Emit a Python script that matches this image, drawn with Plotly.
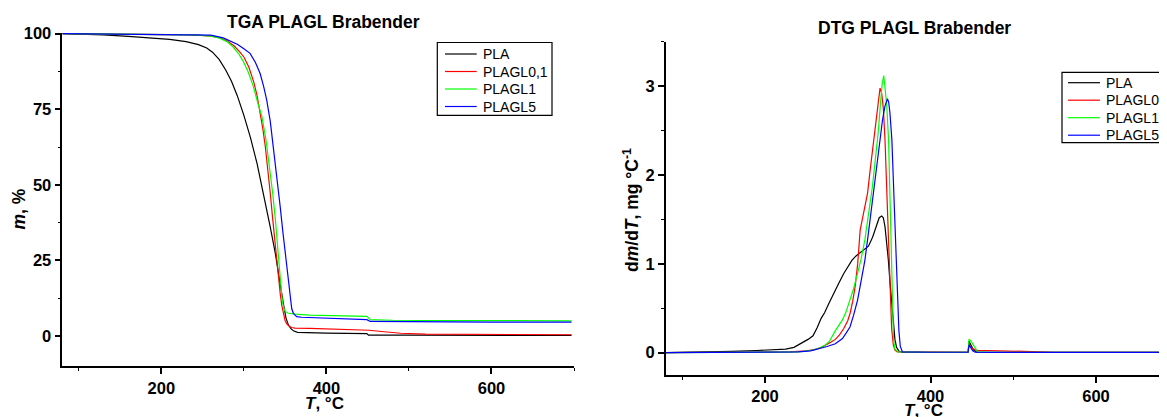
import plotly.graph_objects as go

# The page body has an 8 px default margin; the figure is sized to fill the
# remaining window, and all layout positions below are given in window pixels.
OFF = 8
W, H = 1167 - OFF, 417 - OFF

series_names = ["PLA", "PLAGL0,1", "PLAGL1", "PLAGL5"]
series_colors = ["#000000", "#ff0000", "#00ff00", "#0000ff"]

# ---------------- TGA data (T in °C, m in %) ----------------
tga_T_pla = [80, 100, 130, 160, 190, 210, 230, 245, 255, 262, 270, 278, 285, 292, 300, 308, 316, 324, 332, 338, 344,
             348, 351, 354, 357, 360, 365, 380, 400, 449, 451, 500, 600, 697]
tga_m_pla = [100, 99.9, 99.6, 99.1, 98.6, 98.1, 97.4, 96.4, 95.3, 93.9, 91.5, 88.0, 84.3, 79.5, 73.0, 65.6, 57.0, 47.0,
             36.0, 27.5, 16.5, 10.5, 6.0, 3.6, 2.4, 1.7, 1.2, 1.0, 0.95, 0.8, 0.3, 0.25, 0.2, 0.2]

tga_T_gl01 = [80, 150, 200, 240, 260, 270, 280, 288, 295, 300, 306, 312, 316, 320, 323, 326, 329, 332, 335, 338, 341,
              344, 346, 348, 350, 352, 355, 358, 362, 380, 420, 449, 452, 470, 490, 520, 600, 697]
tga_m_gl01 = [100, 99.9, 99.8, 99.6, 99.2, 98.7, 97.6, 96.0, 94.0, 92.3, 89.0, 84.0, 79.5, 73.6, 68.5, 62.6, 55.5,
              47.2, 38.5, 29.5, 21.0, 14.1, 10.0, 6.8, 5.0, 4.0, 3.2, 2.8, 2.6, 2.5, 2.3, 2.1, 1.9, 1.4, 0.9, 0.6,
              0.45, 0.4]

tga_T_gl1 = [80, 150, 200, 240, 260, 270, 280, 287, 293, 299, 305, 311, 317, 322, 327, 331, 335, 338, 341, 344, 346,
             348, 350, 353, 357, 362, 380, 420, 449, 453, 480, 550, 697]
tga_m_gl1 = [100, 99.9, 99.8, 99.6, 99.2, 98.6, 97.3, 95.6, 93.6, 91.0, 87.5, 83.0, 77.0, 72.5, 64.5, 56.5, 47.0,
             39.0, 29.5, 19.0, 13.0, 9.5, 8.2, 7.6, 7.4, 7.2, 6.9, 6.7, 6.5, 5.4, 5.2, 5.1, 5.0]

tga_T_gl5 = [80, 150, 200, 240, 260, 275, 283, 292, 300, 307.5, 314, 319.6, 324, 327.7, 332, 335.8, 340, 344, 347,
             350, 353, 356, 358, 360, 362, 364, 370, 400, 449, 453, 500, 600, 697]
tga_m_gl5 = [100, 99.9, 99.8, 99.7, 99.5, 98.6, 97.6, 96.5, 95.0, 93.5, 90.5, 86.9, 82.5, 78.0, 71.0, 62.6, 52.5,
             42.8, 35.0, 27.3, 19.5, 11.9, 9.0, 7.5, 6.9, 6.4, 6.2, 5.9, 5.4, 4.8, 4.7, 4.6, 4.6]

# ---------------- DTG data (T in °C, dm/dT in mg/°C) ----------------
dtg_T_pla = [80, 120, 160, 190, 210, 225, 235, 245, 252, 258, 263, 268, 272, 277, 283, 289, 295, 300, 305, 310, 315,
             320, 325, 330, 335, 338, 341, 343, 345, 347, 349, 351, 353, 355, 357, 359, 362, 365, 400, 445.5, 446.5,
             448, 452, 456, 470, 600, 700]
dtg_v_pla = [0, 0.005, 0.015, 0.025, 0.03, 0.04, 0.06, 0.11, 0.15, 0.19, 0.28, 0.39, 0.45, 0.55, 0.67, 0.78, 0.89,
             0.97, 1.04, 1.09, 1.13, 1.16, 1.20, 1.30, 1.44, 1.52, 1.54, 1.52, 1.42, 1.25, 1.05, 0.8, 0.55, 0.32, 0.15,
             0.06, 0.015, 0.005, 0.005, 0.005, 0.13, 0.10, 0.03, 0.005, 0.003, 0.003, 0.003]

dtg_T_gl01 = [80, 150, 200, 230, 250, 260, 268, 275, 280, 285, 290, 295, 300, 303, 306, 309, 312, 315, 318, 321, 324,
              327, 330, 333, 336, 339, 341, 343, 345, 347, 349, 351, 353, 355, 357, 360, 400, 445.5, 446.5, 448, 452,
              456, 470, 490, 500, 550, 700]
dtg_v_gl01 = [0, 0.002, 0.005, 0.01, 0.02, 0.035, 0.06, 0.09, 0.12, 0.15, 0.2, 0.27, 0.36, 0.45, 0.58, 0.75, 1.0,
              1.38, 1.52, 1.63, 1.8, 2.05, 2.3, 2.55, 2.8, 2.98, 2.92, 2.75, 2.4, 1.85, 1.2, 0.65, 0.28, 0.09, 0.03,
              0.01, 0.005, 0.005, 0.1, 0.07, 0.04, 0.025, 0.025, 0.02, 0.01, 0.005, 0.003]

dtg_T_gl1 = [80, 200, 240, 255, 265, 272, 278, 284.5, 289, 293.6, 298, 302.7, 307, 311.8, 316, 320.7, 325, 329.8,
             333, 336.7, 339.5, 341.5, 343.5, 345, 347, 349.3, 351, 353.3, 354.3, 355.3, 357, 361, 400, 445.5, 446.5,
             448, 451, 454, 457, 470, 700]
dtg_v_gl1 = [0, 0.003, 0.01, 0.025, 0.05, 0.08, 0.13, 0.24, 0.3, 0.37, 0.46, 0.59, 0.72, 0.89, 1.05, 1.27, 1.55,
             1.87, 2.15, 2.47, 2.8, 3.02, 3.12, 3.0, 2.8, 2.4, 1.7, 0.89, 0.4, 0.15, 0.04, 0.01, 0.005, 0.005, 0.15,
             0.14, 0.1, 0.05, 0.01, 0.003, 0.003]

dtg_T_gl5 = [80, 200, 240, 255, 264, 275, 285, 293.6, 298, 302.7, 307, 311.8, 316, 320.7, 325, 329.8, 334, 338.9,
             342, 345, 347, 348, 349.5, 351, 353.3, 355.5, 357.3, 358.7, 360.1, 361.8, 363.5, 366, 400, 445.5, 446.5,
             448, 451, 454, 470, 700]
dtg_v_gl5 = [0, 0.003, 0.01, 0.02, 0.04, 0.07, 0.1, 0.16, 0.22, 0.29, 0.42, 0.59, 0.8, 1.04, 1.35, 1.72, 2.05, 2.40,
             2.62, 2.78, 2.85, 2.86, 2.82, 2.7, 2.4, 1.85, 1.27, 0.85, 0.52, 0.25, 0.07, 0.01, 0.005, 0.005, 0.09,
             0.06, 0.02, 0.005, 0.003, 0.003]

tga_T = [tga_T_pla, tga_T_gl01, tga_T_gl1, tga_T_gl5]
tga_m = [tga_m_pla, tga_m_gl01, tga_m_gl1, tga_m_gl5]
dtg_T = [dtg_T_pla, dtg_T_gl01, dtg_T_gl1, dtg_T_gl5]
dtg_v = [dtg_v_pla, dtg_v_gl01, dtg_v_gl1, dtg_v_gl5]

FONT = "Arial, 'Liberation Sans', sans-serif"


def px_x(p):
    return (p - OFF) / W


def px_y(p):
    return 1 - (p - OFF) / H


fig = go.Figure()
for i, name in enumerate(series_names):
    fig.add_trace(go.Scatter(x=tga_T[i], y=tga_m[i], mode="lines", name=name,
                             line=dict(color=series_colors[i], width=1.2),
                             xaxis="x", yaxis="y", showlegend=False))
for i, name in enumerate(series_names):
    fig.add_trace(go.Scatter(x=dtg_T[i], y=dtg_v[i], mode="lines", name=name,
                             line=dict(color=series_colors[i], width=1.2),
                             xaxis="x2", yaxis="y2", showlegend=False))

axis_common = dict(showline=True, linecolor="black", linewidth=1.5, mirror=False,
                   ticks="outside", ticklen=6, tickwidth=1.5, tickcolor="black",
                   showgrid=False, zeroline=False,
                   tickfont=dict(family=FONT, size=16.5, color="black", weight="bold"))
minor_common = dict(ticks="outside", ticklen=3, tickwidth=1.2, tickcolor="black", tick0=0)

fig.update_layout(
    width=W, height=H,
    margin=dict(l=0, r=0, t=0, b=0, autoexpand=False),
    paper_bgcolor="white", plot_bgcolor="white",
    showlegend=False,
    xaxis=dict(domain=[px_x(62.3), px_x(574)], range=[80, 700], anchor="y",
               tickmode="linear", tick0=0, dtick=200,
               minor=dict(dtick=100, **minor_common), **axis_common),
    yaxis=dict(domain=[px_y(366.2), px_y(32.5)], range=[-10, 100.4], anchor="x",
               tickmode="linear", tick0=0, dtick=25,
               minor=dict(dtick=12.5, **minor_common), **axis_common),
    xaxis2=dict(domain=[px_x(665.7), 1.0], range=[80, 685.8], anchor="y2",
                tickmode="linear", tick0=0, dtick=200,
                minor=dict(dtick=100, **minor_common), **axis_common),
    yaxis2=dict(domain=[px_y(374.9), px_y(41.9)], range=[-0.25, 3.5], anchor="x2",
                tickmode="linear", tick0=0, dtick=1,
                minor=dict(dtick=0.5, **minor_common), **axis_common),
)

title_font = dict(family=FONT, size=17.5, color="black", weight="bold")
axtitle_font = dict(family=FONT, size=17, color="black", weight="bold")
annotations = [
    dict(text="TGA PLAGL Brabender", x=px_x(323), y=px_y(22), font=title_font),
    dict(text="DTG PLAGL Brabender", x=px_x(914), y=px_y(28), font=title_font),
    dict(text="<i>T</i>, °C", x=px_x(324), y=px_y(403.5), font=axtitle_font),
    dict(text="<i>T</i>, °C", x=px_x(923), y=px_y(410.5), font=axtitle_font),
    dict(text="<i>m</i>, %", x=px_x(18.5), y=px_y(209), font=title_font, textangle=-90),
    dict(text="d<i>m</i>/d<i>T</i>, mg °C<sup>-1</sup>", x=px_x(631), y=px_y(210), font=title_font, textangle=-90),
]
for a in annotations:
    a.update(xref="paper", yref="paper", showarrow=False, xanchor="center", yanchor="middle")

shapes = []
# manual legends in window pixels:
# (box left, box top, box right, box bottom, first item y, line x0, line x1, text x)
legend_specs = [
    (437.3, 42.5, 552.0, 115.3, 54.0, 445.0, 476.7, 481.0),
    (1062.0, 72.3, 1177.0, 142.7, 82.7, 1068.0, 1100.0, 1104.0),
]
for (bx0, by0, bx1, by1, iy0, lx0, lx1, tx) in legend_specs:
    shapes.append(dict(type="rect", xref="paper", yref="paper",
                       x0=px_x(bx0), x1=px_x(bx1), y0=px_y(by1), y1=px_y(by0),
                       line=dict(color="black", width=1.2), fillcolor="white", layer="above"))
    for k, name in enumerate(series_names):
        yy = iy0 + 17.5 * k
        shapes.append(dict(type="line", xref="paper", yref="paper",
                           x0=px_x(lx0), x1=px_x(lx1), y0=px_y(yy), y1=px_y(yy),
                           line=dict(color=series_colors[k], width=1.2), layer="above"))
        annotations.append(dict(text=name, xref="paper", yref="paper", x=px_x(tx), y=px_y(yy),
                                xanchor="left", yanchor="middle", showarrow=False,
                                font=dict(family=FONT, size=14, color="black")))

fig.update_layout(annotations=annotations, shapes=shapes)
fig.write_html("out.html")
